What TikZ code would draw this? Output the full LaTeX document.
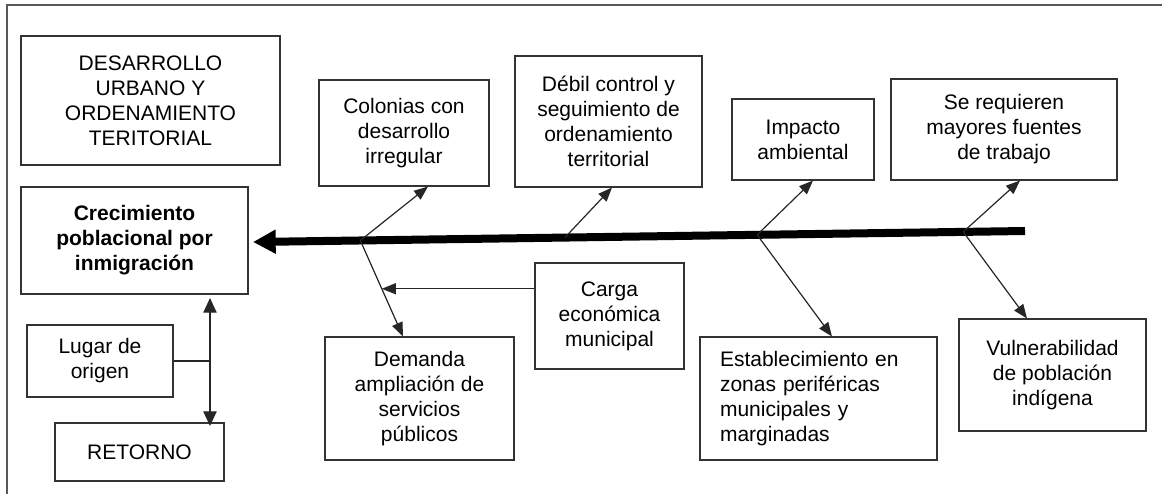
\documentclass[tikz,border=0pt]{standalone}
\usepackage{fontspec}
\setmainfont{Liberation Sans}
\usetikzlibrary{arrows.meta,calc}
\begin{document}
\begin{tikzpicture}[x=0.75pt,y=-0.75pt,
  bx/.style 2 args={draw=black!80,line width=0.8pt,rectangle,align=center,inner sep=0pt,
    minimum width=#1*0.75pt,minimum height=#2*0.75pt,
    font=\fontsize{15.75}{18.75}\selectfont},
  branch/.style={draw=black!85,line width=0.9pt,-{Triangle[length=10.5pt,width=8.25pt]}},
  spine/.style={draw=black,line width=6pt,-{Triangle[length=17pt,width=17pt]}},
  frame/.style={draw=black!65,line width=1.2pt}]
\useasboundingbox (0,0) rectangle (1162,494);
% frame
\coordinate (fb) at (7,494);
\coordinate (ft) at (7,5);
\coordinate (fr) at (1162,5);
\draw[frame] (fb) -- (ft) -- (fr);
% boxes
\node[bx={259}{129}] (des) at (150.5,100.5) {DESARROLLO\\URBANO Y\\ORDENAMIENTO\\TERITORIAL};
\node[bx={227}{107},font=\fontsize{15.75}{18.75}\selectfont\bfseries] (cre) at (134.5,240.5) {Crecimiento\\poblacional por\\inmigración};
\node[bx={146}{72}] (lug) at (100,361) {Lugar de\\origen};
\node[bx={169}{58}] (ret) at (139.5,452) {RETORNO};
\node[bx={170}{106}] (col) at (404,133) {Colonias con\\desarrollo\\irregular};
\node[bx={187}{131}] (deb) at (608.5,121.5) {Débil control y\\seguimiento de\\ordenamiento\\territorial};
\node[bx={142}{81}] (imp) at (803,139.5) {Impacto\\ambiental};
\node[bx={226}{101}] (ser) at (1004,129.5) {Se requieren\\mayores fuentes\\de trabajo};
\node[bx={149}{106}] (car) at (609.5,316) {Carga\\económica\\municipal};
\node[bx={189}{123}] (dem) at (419.5,398.5) {Demanda\\ampliación de\\servicios\\públicos};
\node[bx={237}{123},align=left,text width=197*0.75pt,inner xsep=20*0.75pt] (est) at (818.5,398.5) {Establecimiento en\\zonas periféricas\\municipales y\\marginadas};
\node[bx={187}{112}] (vul) at (1052.5,375) {Vulnerabilidad\\de población\\indígena};
% spine
\coordinate (sR) at (1025,231);
\coordinate (sL) at (253,242);
\draw[spine] (sR) -- (sL);
\coordinate (j1) at ($(sR)!0.861!(sL)$);
\coordinate (j2) at ($(sR)!0.596!(sL)$);
\coordinate (j3) at ($(sR)!0.347!(sL)$);
\coordinate (j4) at ($(sR)!0.080!(sL)$);
% branches
\draw[branch] (j1) -- ([xshift=24*0.75pt]col.south);
\coordinate (d1) at ([xshift=-16.5*0.75pt]dem.north);
\draw[branch] (j1) -- (d1);
\coordinate (cm) at ($(j1)!0.503!(d1)$);
\draw[branch] (car.west |- cm) -- (cm);
\draw[branch] (j2) -- ([xshift=3.5*0.75pt]deb.south);
\draw[branch] (j3) -- ([xshift=10*0.75pt]imp.south);
\draw[branch] (j3) -- ([xshift=13.5*0.75pt]est.north);
\draw[branch] (j4) -- ([xshift=16*0.75pt]ser.south);
\draw[branch] (j4) -- ([xshift=-25.5*0.75pt]vul.north);
% migration
\coordinate (vt) at (210,298);
\coordinate (vb) at (210,426);
\draw[draw=black!85,line width=0.9pt,{Triangle[length=11pt,width=10pt]}-{Triangle[length=11pt,width=10pt]}] (vt) -- (vb);
\draw[draw=black!85,line width=0.9pt] (lug.east) -- (lug.east -| vt);
\end{tikzpicture}
\end{document}
